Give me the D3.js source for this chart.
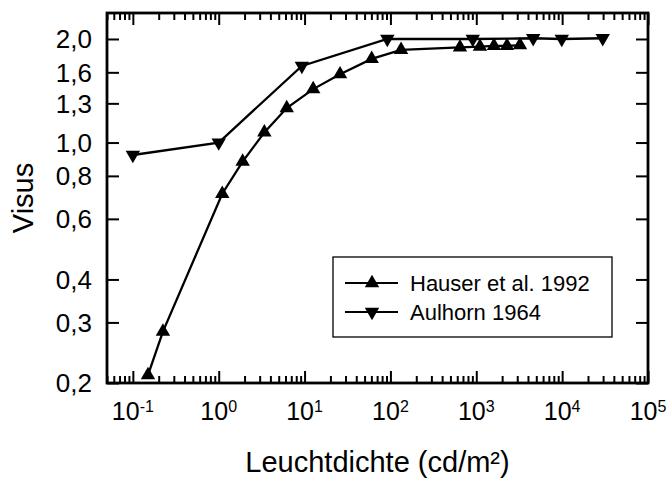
<!DOCTYPE html>
<html>
<head>
<meta charset="utf-8">
<script src="https://cdn.jsdelivr.net/npm/d3@7"></script>
<style>
  html, body { margin: 0; padding: 0; background: #fff; }
  svg { display: block; }
  text { font-family: "Liberation Sans", Arial, Helvetica, sans-serif; fill: #000; }
</style>
</head>
<body>
<svg id="chart" width="671" height="480"></svg>
<script>
// ---- data ----
const hauserX = [0.15, 0.224, 1.1, 1.9, 3.4, 6.2, 12.6, 25.9, 60.5, 133, 646, 1104, 1607, 2280, 3228];
const hauserY = [0.211, 0.282, 0.71, 0.88, 1.07, 1.26, 1.43, 1.58, 1.75, 1.86, 1.89, 1.90, 1.91, 1.91, 1.92];
const aulhornX = [0.1, 1.0, 9.3, 92, 910, 4600, 9900, 29700];
const aulhornY = [0.92, 1.0, 1.67, 2.0, 2.0, 2.01, 2.0, 2.01];
const yTickValues = [0.2, 0.3, 0.4, 0.6, 0.8, 1.0, 1.3, 1.6, 2.0];
const yTickLabels = ["0,2", "0,3", "0,4", "0,6", "0,8", "1,0", "1,3", "1,6", "2,0"];
const xMajorExps = [-1, 0, 1, 2, 3, 4, 5];
const seriesNames = ["Hauser et al. 1992", "Aulhorn 1964"];
const xTitle = "Leuchtdichte (cd/m²)";
const yTitle = "Visus";

// ---- layout ----
const L = 107, R = 648, T = 13, B = 383;
const svg = d3.select("#chart");

const x = d3.scaleLog().domain([0.05, 1e5]).range([L, R]);
const y = d3.scaleLog().domain([0.2, 2.38]).range([B, T]);

const xMajor = xMajorExps.map(e => Math.pow(10, e));
const xMinor = x.ticks().filter(v => {
  const l = Math.log10(v);
  return Math.abs(l - Math.round(l)) > 1e-9;
});

function styleAxis(g) {
  g.select(".domain").remove();
  g.selectAll(".tick line").attr("stroke", "#000").attr("stroke-width", 2);
  g.selectAll(".tick text").remove();
}

svg.append("g").attr("transform", `translate(0,${B})`)
  .call(d3.axisBottom(x).tickValues(xMajor).tickSize(-12).tickFormat("")).call(styleAxis);
svg.append("g").attr("transform", `translate(0,${B})`)
  .call(d3.axisBottom(x).tickValues(xMinor).tickSize(-7).tickFormat("")).call(styleAxis);
svg.append("g").attr("transform", `translate(0,${T})`)
  .call(d3.axisTop(x).tickValues(xMajor).tickSize(-12).tickFormat("")).call(styleAxis);
svg.append("g").attr("transform", `translate(0,${T})`)
  .call(d3.axisTop(x).tickValues(xMinor).tickSize(-7).tickFormat("")).call(styleAxis);
svg.append("g").attr("transform", `translate(${L},0)`)
  .call(d3.axisLeft(y).tickValues(yTickValues).tickSize(-12).tickFormat("")).call(styleAxis);
svg.append("g").attr("transform", `translate(${R},0)`)
  .call(d3.axisRight(y).tickValues(yTickValues).tickSize(-12).tickFormat("")).call(styleAxis);

svg.append("rect").attr("x", L).attr("y", T).attr("width", R - L).attr("height", B - T)
  .attr("fill", "none").attr("stroke", "#000").attr("stroke-width", 2.8);

svg.append("g").selectAll("text").data(yTickValues).join("text")
  .attr("x", 92).attr("y", d => y(d)).attr("dy", "0.36em")
  .attr("text-anchor", "end").attr("font-size", 26)
  .text((d, i) => yTickLabels[i]);

const xl = svg.append("g").selectAll("text").data(xMajorExps).join("text")
  .attr("x", d => x(Math.pow(10, d))).attr("y", 420)
  .attr("text-anchor", "middle").attr("font-size", 25);
xl.append("tspan").text("10");
xl.append("tspan").attr("font-size", 16).attr("dy", -8).text(d => String(d));

svg.append("text").attr("x", (L + R) / 2).attr("y", 472)
  .attr("text-anchor", "middle").attr("font-size", 29).text(xTitle);
svg.append("text").attr("transform", `translate(33,${(T + B) / 2}) rotate(-90)`)
  .attr("text-anchor", "middle").attr("font-size", 29).text(yTitle);

const line = d3.line().x(d => x(d[0])).y(d => y(d[1]));
const hauser = hauserX.map((v, i) => [v, hauserY[i]]);
const aulhorn = aulhornX.map((v, i) => [v, aulhornY[i]]);
const triUp = d3.symbol().type(d3.symbolTriangle).size(90);

svg.append("path").datum(aulhorn).attr("d", line)
  .attr("fill", "none").attr("stroke", "#000").attr("stroke-width", 2.3);
svg.append("path").datum(hauser).attr("d", line)
  .attr("fill", "none").attr("stroke", "#000").attr("stroke-width", 2.3);

svg.append("g").selectAll("path").data(hauser).join("path")
  .attr("d", triUp).attr("fill", "#000")
  .attr("transform", d => `translate(${x(d[0])},${y(d[1])})`);
svg.append("g").selectAll("path").data(aulhorn).join("path")
  .attr("d", triUp).attr("fill", "#000")
  .attr("transform", d => `translate(${x(d[0])},${y(d[1])}) rotate(180)`);

const lg = svg.append("g");
lg.append("rect").attr("x", 333).attr("y", 257).attr("width", 279).attr("height", 80)
  .attr("fill", "#fff").attr("stroke", "#000").attr("stroke-width", 1.3);
const rows = [283, 312];
rows.forEach((ry, i) => {
  lg.append("line").attr("x1", 345).attr("x2", 398).attr("y1", ry).attr("y2", ry)
    .attr("stroke", "#000").attr("stroke-width", 2);
  lg.append("path").attr("d", triUp).attr("fill", "#000")
    .attr("transform", `translate(372,${ry})${i === 1 ? " rotate(180)" : ""}`);
  lg.append("text").attr("x", 410).attr("y", ry).attr("dy", "0.36em")
    .attr("font-size", 22).text(seriesNames[i]);
});
</script>
</body>
</html>
